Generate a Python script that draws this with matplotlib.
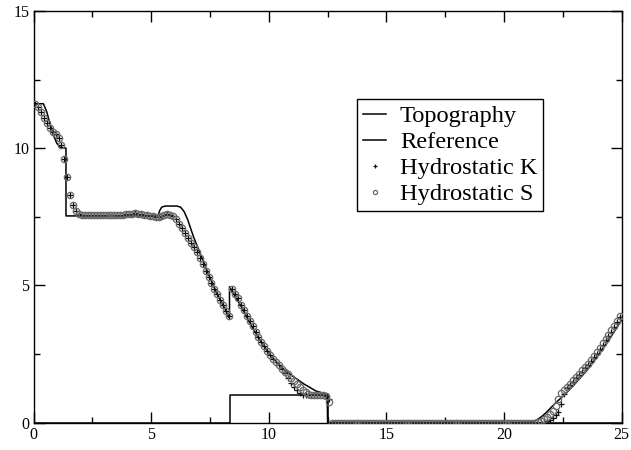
import numpy as np
import matplotlib
matplotlib.use("Agg")
import matplotlib.pyplot as plt

plt.rcParams["font.family"] = ["Liberation Serif", "DejaVu Serif"]

# Bottom topography (step obstacle)
topo_x = [0.0, 8.33, 8.33, 12.5, 12.5, 25.0]
topo_y = [0.0, 0.0, 1.0, 1.0, 0.0, 0.0]

# Reference free surface
ref_x = [0.0, 0.42, 0.56, 0.7, 0.84, 0.99, 1.13, 1.38, 1.38, 5.3, 5.36, 5.45, 5.6,
         6.1, 6.25, 6.4, 6.55, 6.8, 7.08, 7.36, 7.79, 8.1, 8.33, 8.33, 8.6, 8.85,
         9.28, 9.7, 10.1, 10.55, 11.0, 11.5, 12.0, 12.3, 12.48, 12.5, 21.0, 21.2,
         21.4, 21.6, 21.8, 22.0, 22.2, 22.4, 22.6, 22.8, 23.0, 23.5, 24.0, 24.5, 25.0]
ref_y = [11.62, 11.62, 11.33, 10.9, 10.48, 10.18, 10.03, 10.0, 7.53, 7.53, 7.72, 7.85,
         7.89, 7.89, 7.85, 7.69, 7.4, 6.77, 6.17, 5.56, 4.71, 4.2, 3.8, 4.95, 4.55,
         4.2, 3.5, 2.9, 2.42, 2.0, 1.7, 1.4, 1.15, 1.07, 1.05, 0.0, 0.0, 0.02,
         0.1, 0.22, 0.37, 0.55, 0.72, 0.88, 1.04, 1.22, 1.4, 1.88, 2.45, 3.07, 3.74]

# Cell-centred numerical solutions (200 cells on [0, 25])
n_cells = 200
cell_x = (np.arange(n_cells) + 0.5) * 25.0 / n_cells

hydro_s = [
    11.61, 11.5, 11.33, 11.1, 10.9, 10.75, 10.6, 10.5, 10.36, 10.1,
    9.6, 8.94, 8.3, 7.93, 7.7, 7.6, 7.57, 7.56, 7.55, 7.55,
    7.55, 7.55, 7.55, 7.55, 7.55, 7.55, 7.56, 7.56, 7.57, 7.57,
    7.58, 7.59, 7.6, 7.61, 7.62, 7.61, 7.59, 7.57, 7.55, 7.53,
    7.52, 7.5, 7.5, 7.52, 7.56, 7.59, 7.58, 7.52, 7.42, 7.25,
    7.08, 6.9, 6.72, 6.53, 6.38, 6.2, 5.98, 5.78, 5.54, 5.3,
    5.09, 4.88, 4.68, 4.47, 4.28, 4.06, 3.88, 4.85, 4.7, 4.52,
    4.3, 4.1, 3.9, 3.7, 3.5, 3.3, 3.12, 2.95, 2.78, 2.62,
    2.47, 2.33, 2.2, 2.08, 1.96, 1.85, 1.75, 1.64, 1.52, 1.4,
    1.28, 1.18, 1.1, 1.05, 1.02, 1.01, 1.0, 1.0, 1.0, 0.98,
    0.75, 0, 0, 0, 0, 0, 0, 0, 0, 0,
    0, 0, 0, 0, 0, 0, 0, 0, 0, 0,
    0, 0, 0, 0, 0, 0, 0, 0, 0, 0,
    0, 0, 0, 0, 0, 0, 0, 0, 0, 0,
    0, 0, 0, 0, 0, 0, 0, 0, 0, 0,
    0, 0, 0, 0, 0, 0, 0, 0, 0, 0,
    0, 0, 0, 0, 0, 0, 0, 0, 0, 0,
    0, 0.02, 0.06, 0.12, 0.2, 0.3, 0.42, 0.6, 0.85, 1.08,
    1.2, 1.3, 1.42, 1.54, 1.66, 1.78, 1.9, 2.02, 2.15, 2.28,
    2.42, 2.56, 2.72, 2.88, 3.04, 3.2, 3.36, 3.52, 3.7, 3.88,
]

hydro_k = [
    11.61, 11.5, 11.33, 11.1, 10.9, 10.75, 10.6, 10.5, 10.36, 10.1,
    9.6, 8.94, 8.3, 7.93, 7.7, 7.6, 7.57, 7.56, 7.55, 7.55,
    7.55, 7.55, 7.55, 7.55, 7.55, 7.55, 7.56, 7.56, 7.57, 7.57,
    7.58, 7.59, 7.6, 7.61, 7.62, 7.61, 7.59, 7.57, 7.55, 7.53,
    7.52, 7.5, 7.5, 7.52, 7.56, 7.59, 7.58, 7.52, 7.42, 7.25,
    7.08, 6.9, 6.72, 6.53, 6.38, 6.2, 5.98, 5.78, 5.54, 5.3,
    5.09, 4.88, 4.68, 4.47, 4.28, 4.06, 3.88, 4.85, 4.7, 4.52,
    4.3, 4.1, 3.9, 3.7, 3.5, 3.3, 3.12, 2.95, 2.78, 2.62,
    2.47, 2.33, 2.2, 2.08, 1.96, 1.8, 1.62, 1.45, 1.3, 1.18,
    1.08, 1.02, 1.0, 1.0, 1.0, 1.0, 1.0, 1.0, 1.0, 0.98,
    0.85, 0, 0, 0, 0, 0, 0, 0, 0, 0,
    0, 0, 0, 0, 0, 0, 0, 0, 0, 0,
    0, 0, 0, 0, 0, 0, 0, 0, 0, 0,
    0, 0, 0, 0, 0, 0, 0, 0, 0, 0,
    0, 0, 0, 0, 0, 0, 0, 0, 0, 0,
    0, 0, 0, 0, 0, 0, 0, 0, 0, 0,
    0, 0, 0, 0, 0, 0, 0, 0, 0, 0,
    0, 0, 0, 0.02, 0.05, 0.09, 0.15, 0.27, 0.4, 0.68,
    1.05, 1.25, 1.37, 1.49, 1.61, 1.73, 1.85, 1.97, 2.1, 2.23,
    2.37, 2.51, 2.67, 2.83, 2.99, 3.15, 3.31, 3.47, 3.65, 3.83,
]

fig = plt.figure(figsize=(6.31, 4.50), dpi=100)
ax = fig.add_axes([0.0531, 0.0611, 0.9322, 0.9145])

ax.plot(topo_x, topo_y, color="black", lw=1.1, label="Topography", zorder=3)
ax.plot(ref_x, ref_y, color="black", lw=1.1, label="Reference", zorder=3)
ax.plot(cell_x, hydro_k, linestyle="none", marker="+", ms=4.8, mew=0.9,
        color="#101010", label="Hydrostatic K", zorder=4)
ax.plot(cell_x, hydro_s, linestyle="none", marker="o", ms=4.6, mew=0.9,
        mfc="none", mec="#6a6a6a", label="Hydrostatic S", zorder=5)

ax.set_xlim(0, 25)
ax.set_ylim(0, 15)
ax.set_xticks([0, 5, 10, 15, 20, 25])
ax.set_yticks([0, 5, 10, 15])
ax.set_xticks(np.arange(2.5, 25, 5), minor=True)
ax.set_yticks(np.arange(2.5, 15, 5), minor=True)
ax.tick_params(which="both", direction="in", top=True, right=True,
               labelsize=11.5, width=1.0, pad=3)
ax.tick_params(which="major", length=8)
ax.tick_params(which="minor", length=4.3)
for sp in ax.spines.values():
    sp.set_linewidth(1.0)

leg = ax.legend(loc="upper left", bbox_to_anchor=(0.55, 0.786), fontsize=17.6,
                frameon=True, fancybox=False, edgecolor="black", framealpha=1,
                handlelength=0.95, handletextpad=0.55, labelspacing=0.16,
                borderpad=0.25, borderaxespad=0.0, markerscale=0.65)
leg.get_frame().set_linewidth(1.0)

fig.savefig("out.png", dpi=100)
